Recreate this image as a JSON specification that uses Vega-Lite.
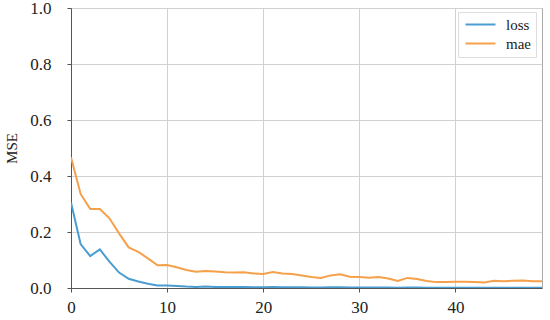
{
  "$schema": "https://vega.github.io/schema/vega-lite/v6.json",
  "width": 471,
  "height": 280,
  "autosize": {"type": "none"},
  "padding": {"left": 71, "top": 8, "right": 8, "bottom": 32},
  "background": "white",
  "config": {
    "font": "Liberation Serif",
    "view": {"stroke": "#aaaaaa", "strokeWidth": 1},
    "axis": {
      "labelFont": "Liberation Serif",
      "titleFont": "Liberation Serif",
      "labelColor": "#222",
      "titleColor": "#222",
      "gridColor": "#d0d0d0",
      "gridWidth": 1,
      "domainColor": "#555",
      "tickColor": "#555",
      "tickSize": 4
    }
  },
  "data": {
    "values": [
      {"epoch": 0, "loss": 0.305, "mae": 0.467},
      {"epoch": 1, "loss": 0.157, "mae": 0.336},
      {"epoch": 2, "loss": 0.114, "mae": 0.282},
      {"epoch": 3, "loss": 0.138, "mae": 0.282},
      {"epoch": 4, "loss": 0.094, "mae": 0.249},
      {"epoch": 5, "loss": 0.055, "mae": 0.195},
      {"epoch": 6, "loss": 0.033, "mae": 0.145},
      {"epoch": 7, "loss": 0.023, "mae": 0.129},
      {"epoch": 8, "loss": 0.015, "mae": 0.106},
      {"epoch": 9, "loss": 0.009, "mae": 0.081},
      {"epoch": 10, "loss": 0.009, "mae": 0.082},
      {"epoch": 11, "loss": 0.007, "mae": 0.074},
      {"epoch": 12, "loss": 0.005, "mae": 0.064},
      {"epoch": 13, "loss": 0.004, "mae": 0.058},
      {"epoch": 14, "loss": 0.005, "mae": 0.061},
      {"epoch": 15, "loss": 0.004, "mae": 0.059},
      {"epoch": 16, "loss": 0.004, "mae": 0.056},
      {"epoch": 17, "loss": 0.004, "mae": 0.055},
      {"epoch": 18, "loss": 0.004, "mae": 0.056},
      {"epoch": 19, "loss": 0.003, "mae": 0.052},
      {"epoch": 20, "loss": 0.003, "mae": 0.05},
      {"epoch": 21, "loss": 0.004, "mae": 0.057},
      {"epoch": 22, "loss": 0.003, "mae": 0.052},
      {"epoch": 23, "loss": 0.003, "mae": 0.05},
      {"epoch": 24, "loss": 0.003, "mae": 0.045},
      {"epoch": 25, "loss": 0.002, "mae": 0.039},
      {"epoch": 26, "loss": 0.002, "mae": 0.036},
      {"epoch": 27, "loss": 0.003, "mae": 0.045},
      {"epoch": 28, "loss": 0.003, "mae": 0.049},
      {"epoch": 29, "loss": 0.002, "mae": 0.04},
      {"epoch": 30, "loss": 0.002, "mae": 0.039},
      {"epoch": 31, "loss": 0.002, "mae": 0.037},
      {"epoch": 32, "loss": 0.002, "mae": 0.039},
      {"epoch": 33, "loss": 0.002, "mae": 0.034},
      {"epoch": 34, "loss": 0.001, "mae": 0.025},
      {"epoch": 35, "loss": 0.002, "mae": 0.036},
      {"epoch": 36, "loss": 0.002, "mae": 0.032},
      {"epoch": 37, "loss": 0.001, "mae": 0.025},
      {"epoch": 38, "loss": 0.001, "mae": 0.021},
      {"epoch": 39, "loss": 0.001, "mae": 0.021},
      {"epoch": 40, "loss": 0.001, "mae": 0.022},
      {"epoch": 41, "loss": 0.001, "mae": 0.022},
      {"epoch": 42, "loss": 0.001, "mae": 0.021},
      {"epoch": 43, "loss": 0.001, "mae": 0.02},
      {"epoch": 44, "loss": 0.001, "mae": 0.026},
      {"epoch": 45, "loss": 0.001, "mae": 0.024},
      {"epoch": 46, "loss": 0.001, "mae": 0.026},
      {"epoch": 47, "loss": 0.001, "mae": 0.027},
      {"epoch": 48, "loss": 0.001, "mae": 0.024},
      {"epoch": 49, "loss": 0.001, "mae": 0.024}
    ]
  },
  "transform": [{"fold": ["loss", "mae"], "as": ["metric", "value"]}],
  "mark": {"type": "line", "strokeWidth": 2, "clip": true},
  "encoding": {
    "x": {
      "field": "epoch",
      "type": "quantitative",
      "scale": {"domain": [0, 49], "nice": false},
      "axis": {
        "title": null,
        "values": [0, 10, 20, 30, 40],
        "labelFontSize": 17,
        "labelPadding": 7,
        "labelFlush": false
      }
    },
    "y": {
      "field": "value",
      "type": "quantitative",
      "scale": {"domain": [0, 1], "nice": false},
      "axis": {
        "title": "MSE",
        "titleFontSize": 15,
        "titleFontWeight": "normal",
        "titlePadding": 10,
        "values": [0, 0.2, 0.4, 0.6, 0.8, 1.0],
        "format": ".1f",
        "labelFontSize": 17,
        "labelPadding": 16
      }
    },
    "color": {
      "field": "metric",
      "type": "nominal",
      "scale": {"domain": ["loss", "mae"], "range": ["#4a9dd0", "#f5a04a"]},
      "legend": {
        "title": null,
        "orient": "none",
        "legendX": 387,
        "legendY": 4,
        "symbolType": "M-3,0H3",
        "symbolSize": 100,
        "symbolOffset": 10,
        "symbolStrokeWidth": 2,
        "labelFontSize": 15,
        "labelColor": "#222",
        "strokeColor": "#dddddd",
        "fillColor": "white",
        "padding": 5,
        "rowPadding": 3,
        "labelOffset": 18
      }
    }
  }
}
